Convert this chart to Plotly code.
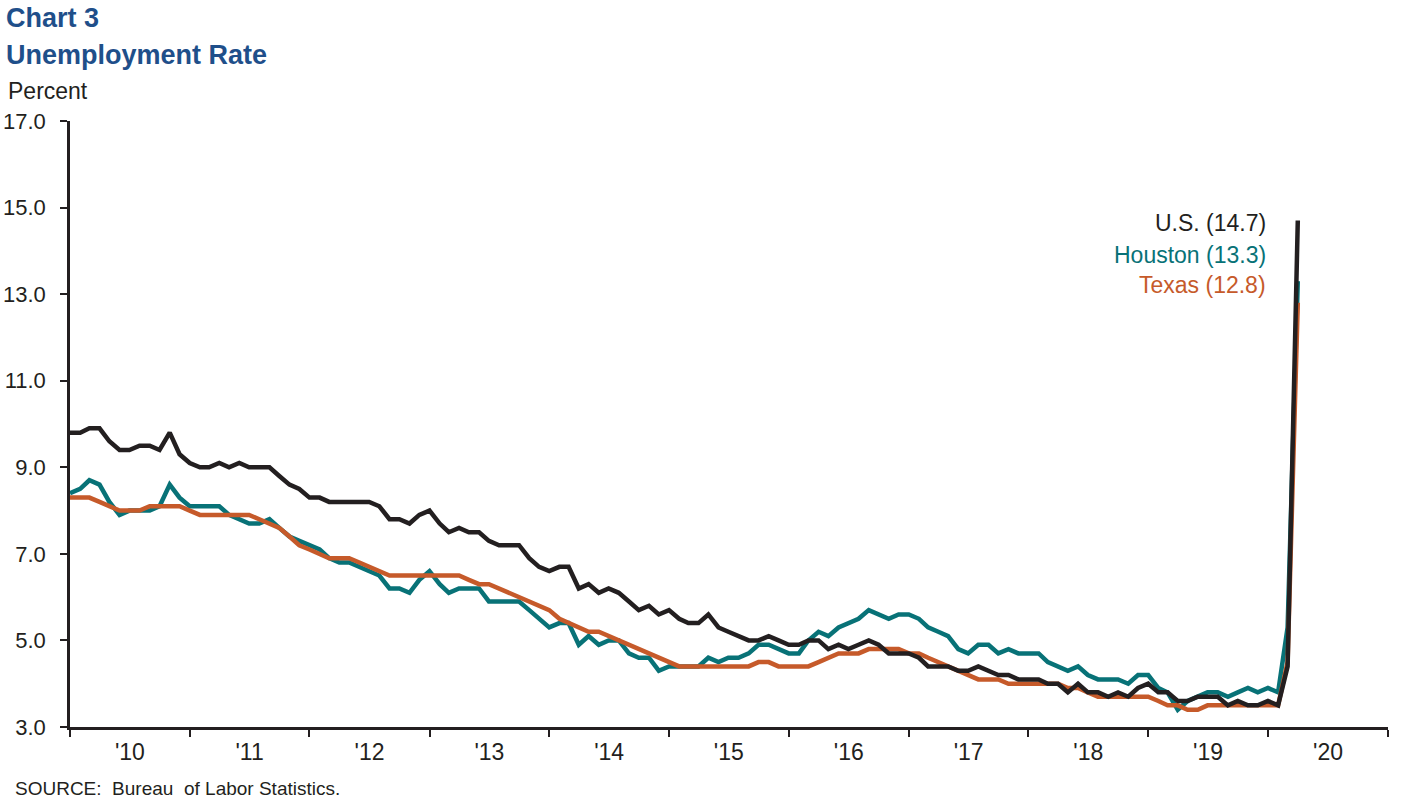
import pandas as pd
import plotly.graph_objects as go

# monthly unemployment rate, Jan 2010 - Apr 2020 (percent)
US = [
    9.8, 9.8, 9.9, 9.9, 9.6, 9.4, 9.4, 9.5, 9.5, 9.4, 9.8, 9.3,
    9.1, 9.0, 9.0, 9.1, 9.0, 9.1, 9.0, 9.0, 9.0, 8.8, 8.6, 8.5,
    8.3, 8.3, 8.2, 8.2, 8.2, 8.2, 8.2, 8.1, 7.8, 7.8, 7.7, 7.9,
    8.0, 7.7, 7.5, 7.6, 7.5, 7.5, 7.3, 7.2, 7.2, 7.2, 6.9, 6.7,
    6.6, 6.7, 6.7, 6.2, 6.3, 6.1, 6.2, 6.1, 5.9, 5.7, 5.8, 5.6,
    5.7, 5.5, 5.4, 5.4, 5.6, 5.3, 5.2, 5.1, 5.0, 5.0, 5.1, 5.0,
    4.9, 4.9, 5.0, 5.0, 4.8, 4.9, 4.8, 4.9, 5.0, 4.9, 4.7, 4.7,
    4.7, 4.6, 4.4, 4.4, 4.4, 4.3, 4.3, 4.4, 4.3, 4.2, 4.2, 4.1,
    4.1, 4.1, 4.0, 4.0, 3.8, 4.0, 3.8, 3.8, 3.7, 3.8, 3.7, 3.9,
    4.0, 3.8, 3.8, 3.6, 3.6, 3.7, 3.7, 3.7, 3.5, 3.6, 3.5, 3.5,
    3.6, 3.5, 4.4, 14.7,
]
HOUSTON = [
    8.4, 8.5, 8.7, 8.6, 8.2, 7.9, 8.0, 8.0, 8.0, 8.1, 8.6, 8.3,
    8.1, 8.1, 8.1, 8.1, 7.9, 7.8, 7.7, 7.7, 7.8, 7.6, 7.4, 7.3,
    7.2, 7.1, 6.9, 6.8, 6.8, 6.7, 6.6, 6.5, 6.2, 6.2, 6.1, 6.4,
    6.6, 6.3, 6.1, 6.2, 6.2, 6.2, 5.9, 5.9, 5.9, 5.9, 5.7, 5.5,
    5.3, 5.4, 5.4, 4.9, 5.1, 4.9, 5.0, 5.0, 4.7, 4.6, 4.6, 4.3,
    4.4, 4.4, 4.4, 4.4, 4.6, 4.5, 4.6, 4.6, 4.7, 4.9, 4.9, 4.8,
    4.7, 4.7, 5.0, 5.2, 5.1, 5.3, 5.4, 5.5, 5.7, 5.6, 5.5, 5.6,
    5.6, 5.5, 5.3, 5.2, 5.1, 4.8, 4.7, 4.9, 4.9, 4.7, 4.8, 4.7,
    4.7, 4.7, 4.5, 4.4, 4.3, 4.4, 4.2, 4.1, 4.1, 4.1, 4.0, 4.2,
    4.2, 3.9, 3.8, 3.4, 3.6, 3.7, 3.8, 3.8, 3.7, 3.8, 3.9, 3.8,
    3.9, 3.8, 5.3, 13.3,
]
TEXAS = [
    8.3, 8.3, 8.3, 8.2, 8.1, 8.0, 8.0, 8.0, 8.1, 8.1, 8.1, 8.1,
    8.0, 7.9, 7.9, 7.9, 7.9, 7.9, 7.9, 7.8, 7.7, 7.6, 7.4, 7.2,
    7.1, 7.0, 6.9, 6.9, 6.9, 6.8, 6.7, 6.6, 6.5, 6.5, 6.5, 6.5,
    6.5, 6.5, 6.5, 6.5, 6.4, 6.3, 6.3, 6.2, 6.1, 6.0, 5.9, 5.8,
    5.7, 5.5, 5.4, 5.3, 5.2, 5.2, 5.1, 5.0, 4.9, 4.8, 4.7, 4.6,
    4.5, 4.4, 4.4, 4.4, 4.4, 4.4, 4.4, 4.4, 4.4, 4.5, 4.5, 4.4,
    4.4, 4.4, 4.4, 4.5, 4.6, 4.7, 4.7, 4.7, 4.8, 4.8, 4.8, 4.8,
    4.7, 4.7, 4.6, 4.5, 4.4, 4.3, 4.2, 4.1, 4.1, 4.1, 4.0, 4.0,
    4.0, 4.0, 4.0, 4.0, 3.9, 3.9, 3.8, 3.7, 3.7, 3.7, 3.7, 3.7,
    3.7, 3.6, 3.5, 3.5, 3.4, 3.4, 3.5, 3.5, 3.5, 3.5, 3.5, 3.5,
    3.5, 3.5, 4.5, 12.8,
]
MONTHS = pd.date_range("2010-01-01", periods=len(US), freq="MS")
Y_TICKS = [3, 5, 7, 9, 11, 13, 15, 17]

BLUE = "#1f4f8a"
BLACK = "#231f20"
TEAL = "#087277"
ORANGE = "#c65a2a"
FONT = "Liberation Sans, Arial, sans-serif"

fig = go.Figure()
for vals, color in [(HOUSTON, TEAL), (TEXAS, ORANGE), (US, BLACK)]:
    fig.add_trace(go.Scatter(
        x=MONTHS, y=vals, mode="lines",
        line=dict(color=color, width=4.5),
        hoverinfo="x+y", showlegend=False,
    ))

# series labels next to the spike
labels = [
    (f"U.S. ({US[-1]:.1f})", BLACK, 14.65),
    (f"Houston ({HOUSTON[-1]:.1f})", TEAL, 13.9),
    (f"Texas ({TEXAS[-1]:.1f})", ORANGE, 13.2),
]
ann = []
for txt, c, yv in labels:
    ann.append(dict(x="2020-01-01", y=yv, xref="x", yref="y", text=txt,
                    showarrow=False, xanchor="right", yanchor="middle",
                    font=dict(size=23, color=c, family=FONT)))

ann += [
    dict(x=0, y=1.170, xref="paper", yref="paper", xshift=-66, text="<b>Chart 3</b>",
         showarrow=False, xanchor="left", yanchor="middle",
         font=dict(size=27, color=BLUE, family=FONT)),
    dict(x=0, y=1.109, xref="paper", yref="paper", xshift=-66, text="<b>Unemployment Rate</b>",
         showarrow=False, xanchor="left", yanchor="middle",
         font=dict(size=27, color=BLUE, family=FONT)),
    dict(x=0, y=1.050, xref="paper", yref="paper", xshift=-64, text="Percent",
         showarrow=False, xanchor="left", yanchor="middle",
         font=dict(size=23, color=BLACK, family=FONT)),
    dict(x=0, y=-0.102, xref="paper", yref="paper", xshift=-57, text="SOURCE:  Bureau  of Labor Statistics.",
         showarrow=False, xanchor="left", yanchor="middle",
         font=dict(size=19, color=BLACK, family=FONT)),
]

fig.update_layout(
    width=1422, height=810,
    paper_bgcolor="white", plot_bgcolor="white",
    margin=dict(l=70, r=34, t=121, b=83),
    font=dict(family=FONT, size=21, color=BLACK),
    annotations=ann,
    xaxis=dict(
        type="date", range=["2010-01-01", "2021-01-01"],
        tick0="2010-01-01", dtick="M12", tickformat="'%y", ticklabelmode="period",
        ticks="outside", ticklen=7, tickwidth=2, tickcolor=BLACK,
        showline=True, linecolor=BLACK, linewidth=2.5,
        showgrid=False, zeroline=False, automargin=False,
        tickfont=dict(size=23, color=BLACK),
        ticklabelstandoff=-4,
    ),
    yaxis=dict(
        range=[3, 17], tickvals=Y_TICKS, tickformat=".1f",
        ticks="outside", ticklen=7, tickwidth=2, tickcolor=BLACK,
        showline=True, linecolor=BLACK, linewidth=2.5,
        showgrid=False, zeroline=False, automargin=False,
        tickfont=dict(size=22, color=BLACK),
        ticklabelstandoff=10,
    ),
)

fig.write_html("out.html", config={"displayModeBar": False},
               post_script="document.body.style.margin='0';")
